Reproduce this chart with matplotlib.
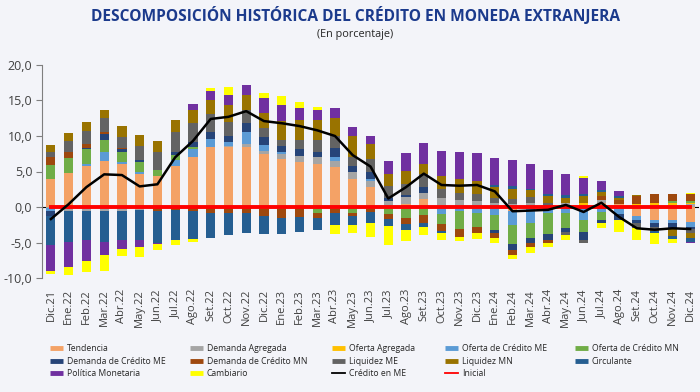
import matplotlib
matplotlib.use("Agg")
import matplotlib.pyplot as plt
from matplotlib.lines import Line2D
import numpy as np

plt.rcParams["font.family"] = ["Open Sans", "DejaVu Sans"]

# Data
months = ["Dic.21", "Ene.22", "Feb.22", "Mar.22", "Abr.22", "May.22", "Jun.22",
          "Jul.22", "Ago.22", "Set.22", "Oct.22", "Nov.22", "Dic.22",
          "Ene.23", "Feb.23", "Mar.23", "Abr.23", "May.23", "Jun.23",
          "Jul.23", "Ago.23", "Set.23", "Oct.23", "Nov.23", "Dic.23",
          "Ene.24", "Feb.24", "Mar.24", "Abr.24", "May.24", "Jun.24",
          "Jul.24", "Ago.24", "Set.24", "Oct.24", "Nov.24", "Dic.24"]

tendencia = [3.9, 4.8, 5.8, 6.5, 6.1, 4.6, 4.4, 5.8, 7.1, 8.5, 8.4, 8.5, 7.4,
             6.8, 6.4, 6.1, 5.6, 4.0, 2.8, 0.0, 0.4, 1.1, 0.3, 0.3, 0.1,
             0.0, -0.6, -0.2, 0.0, 0.0, 0.3, 0.5, 0.4, -1.3, -1.9, -1.8, -2.1]
demanda_agregada = [-0.2, -0.5, -0.5, -0.5, -0.5, -0.4, -0.2, 0, 0, 0, 0.2, 0.4, 0.5,
                    0.7, 0.8, 0.9, 0.9, 1.0, 0.8, 0.9, 1.0, 0.9, 0.9, 0.7, 0.8,
                    0.5, 0.4, 0.6, 0.0, 0.5, 0.0, 0.5, 0, 0, 0.3, 0.3, 0.4]
oferta_agregada = [0, 0, 0, 0, 0, 0, 0, 0, 0, 0, 0, 0, 0,
                   0, 0, 0, 0, 0, 0, 0, 0, 0, 0, 0, 0,
                   0, 0, 0, 0, 0, 0.2, 0, 0, 0.4, 0.3, 0.3, 0.2]
oferta_cred_me = [-0.4, 0, 0.3, 1.2, 0.3, 0.3, 0, 0.8, 1.1, 1.1, 0.6, 1.6, 0.9,
                  0.3, 0, 0, 0.6, 0, 0.4, 0, 0, 0, -1.0, -0.6, -0.9,
                  -1.1, -2.0, -2.0, -0.9, -0.9, -1.8, -0.7, -1.0, -0.5, -0.3, -0.5, -0.7]
oferta_cred_mn = [2.0, 2.1, 2.0, 1.7, 1.3, 1.4, 0.8, 0.7, 0.3, 0, 0, 0, -0.3,
                  -0.3, -0.2, -0.9, -0.3, -0.9, -0.3, -1.0, -1.6, -1.1, -1.4, -2.5, -1.9,
                  -2.1, -2.6, -2.2, -2.9, -2.0, -1.7, -1.1, 0, 0, 0, 0.2, 0.3]
demanda_cred_me = [-0.7, 0, 0.2, 0.9, 0.4, 0.3, 0, 0.5, 0.7, 1.0, 0.8, 1.3, 1.0,
                   0.8, 0.9, 0.8, 1.2, 0.8, 1.0, 0.3, 0.3, 0.8, 0, 0, 0,
                   -0.5, -0.8, -0.7, -0.8, -0.6, -1.1, -0.5, -0.8, -0.5, -0.6, -0.6, -0.3]
demanda_cred_mn = [1.1, 0.9, 0.6, 0.3, 0.2, 0, -0.3, -0.4, -0.5, -0.8, -0.8, -0.9, -0.9,
                   -1.2, -1.2, -0.7, -0.5, -0.3, -0.4, -0.7, -0.8, -1.2, -1.0, -1.1, -0.9,
                   -0.7, -0.8, -0.5, -0.4, 0, 0, 0.5, 0.6, 1.1, 1.3, 1.1, 1.0]
liquidez_me = [0.8, 1.5, 1.8, 1.9, 1.6, 2.0, 2.5, 2.7, 2.6, 2.5, 2.0, 1.9, 1.3,
               0.8, 1.3, 1.6, 1.7, 1.3, 1.7, 1.8, 1.5, 1.8, 1.3, 1.0, 1.0,
               0.8, 0.7, 0.8, 0.5, -0.5, -0.5, 0, 0, -0.7, -0.3, 0, -0.6]
liquidez_mn = [0.9, 1.1, 1.3, 1.1, 1.5, 1.5, 1.6, 1.8, 1.9, 1.9, 2.3, 2.1, 2.2,
               2.7, 2.8, 2.9, 2.6, 2.9, 2.2, 1.7, 1.9, 1.5, 1.9, 1.9, 1.8,
               1.5, 1.5, 1.0, 1.0, 0.8, 1.1, 0.6, 0.3, 0.2, -0.3, -1.2, -0.7]
circulante = [-4.1, -4.4, -4.2, -4.4, -4.1, -4.3, -4.5, -4.2, -4.0, -3.5, -3.2, -2.8, -2.6,
              -2.3, -2.1, -1.7, -1.8, -1.3, -1.5, -1.0, -0.9, -0.5, -0.2, 0, 0,
              0.3, 0.4, 0.2, 0.3, 0.4, 0.3, 0.3, 0.2, 0, -0.3, -0.4, -0.5]
politica_monetaria = [-3.6, -3.5, -2.9, -1.9, -1.3, -0.9, -0.2, 0, 0.8, 1.4, 1.5, 1.4, 2.1,
                      2.2, 1.7, 1.4, 1.3, 1.2, 1.1, 1.8, 2.5, 2.9, 3.5, 3.9, 3.9,
                      3.8, 3.6, 3.5, 3.4, 3.0, 2.2, 1.2, 0.7, 0, 0, 0, -0.2]
cambiario = [-0.4, -1.2, -1.6, -2.2, -1.0, -1.4, -0.8, -0.7, -0.4, 0.4, 1.1, 0, 0.6,
             1.3, 0.9, 0.4, -1.2, -1.2, -2.0, -2.6, -1.5, -1.2, -1.1, -0.6, -0.8,
             -0.6, -0.5, -0.9, -0.7, -0.6, 0.3, -0.7, -1.7, -1.7, -1.5, -0.5, 0.1]
credito_me = [-1.7, 0.4, 2.8, 4.6, 4.5, 2.9, 3.2, 7.0, 9.3, 12.4, 12.7, 13.5, 12.1,
              11.8, 11.4, 10.8, 10.0, 7.3, 5.7, 1.2, 2.8, 4.7, 3.1, 3.0, 3.1,
              2.2, -0.6, -0.5, -0.4, 0.3, -0.7, 0.6, -1.4, -3.0, -3.2, -3.0, -3.1]
inicial = [0.0] * len(months)

series = [
    ("Tendencia", tendencia, "#F4A266"),
    ("Demanda Agregada", demanda_agregada, "#A5A5A5"),
    ("Oferta Agregada", oferta_agregada, "#FFC000"),
    ("Oferta de Crédito ME", oferta_cred_me, "#5B9BD5"),
    ("Oferta de Crédito MN", oferta_cred_mn, "#70AD47"),
    ("Demanda de Crédito ME", demanda_cred_me, "#264478"),
    ("Demanda de Crédito MN", demanda_cred_mn, "#9E480E"),
    ("Liquidez ME", liquidez_me, "#636363"),
    ("Liquidez MN", liquidez_mn, "#997300"),
    ("Circulante", circulante, "#255E91"),
    ("Política Monetaria", politica_monetaria, "#7030A0"),
    ("Cambiario", cambiario, "#FFFF00"),
]

bg = "#F3F4F9"
fig = plt.figure(figsize=(7, 3.92), dpi=100, facecolor=bg)
ax = fig.add_axes([0.06, 0.2908, 0.9386, 0.5434], facecolor=bg)

x = np.arange(len(months))
pos_base = np.zeros(len(months))
neg_base = np.zeros(len(months))

# stacked bars (positives up, negatives down, same order)
for name, vals, color in series:
    v = np.array(vals)
    bottom = np.where(v >= 0, pos_base, neg_base)
    ax.bar(x, v, width=0.52, bottom=bottom, color=color, zorder=2)
    pos_base += np.where(v > 0, v, 0)
    neg_base += np.where(v < 0, v, 0)

ax.axhline(0, color="black", lw=0.8, zorder=1)
ax.plot(x, inicial, color="#FF0000", lw=2.8, zorder=3)
ax.plot(x, credito_me, color="black", lw=1.8, zorder=4)

ax.set_xlim(-0.5, len(months) - 0.5)
ax.set_ylim(-10, 20)
ax.set_yticks(np.arange(-10, 21, 5))
ax.set_yticklabels([f"{t:.1f}".replace(".", ",") for t in np.arange(-10, 21, 5)],
                   fontsize=9, color="#404040")
ax.set_xticks(x)
ax.set_xticklabels(months, rotation=90, fontsize=8, color="#404040")
ax.tick_params(axis="x", length=0, pad=8)
ax.tick_params(axis="y", length=4, color="#7F7F7F", direction="out", pad=3)

for s in ["top", "right", "bottom"]:
    ax.spines[s].set_visible(False)
ax.spines["left"].set_color("#7F7F7F")

# Titles
fig.text(0.508, 0.958, "DESCOMPOSICIÓN HISTÓRICA DEL CRÉDITO EN MONEDA EXTRANJERA",
         ha="center", va="center", fontsize=11.2, fontweight="bold", color="#1B3A8C")
fig.text(0.508, 0.913, "(En porcentaje)", ha="center", va="center",
         fontsize=7.8, color="#262626")

# Legend, laid out in 5 columns like the reference
handles = [Line2D([0], [0], color=c, lw=3.5, solid_capstyle="butt") for _, _, c in series]
labels = [n for n, _, _ in series]
handles += [Line2D([0], [0], color="black", lw=1.3),
            Line2D([0], [0], color="#FF0000", lw=1.3)]
labels += ["Crédito en ME", "Inicial"]

col_x = [0.0714, 0.2714, 0.4743, 0.6357, 0.8214]
for c in range(5):
    idx = list(range(c, len(labels), 5))
    leg = fig.legend([handles[i] for i in idx], [labels[i] for i in idx],
                     loc="upper left", bbox_to_anchor=(col_x[c], 0.122),
                     frameon=False, fontsize=6.2, handlelength=1.5,
                     handletextpad=0.45, labelspacing=0.42, borderpad=0,
                     borderaxespad=0)
    for t in leg.get_texts():
        t.set_color("#262626")

fig.savefig("out.png", dpi=100, facecolor=bg)
